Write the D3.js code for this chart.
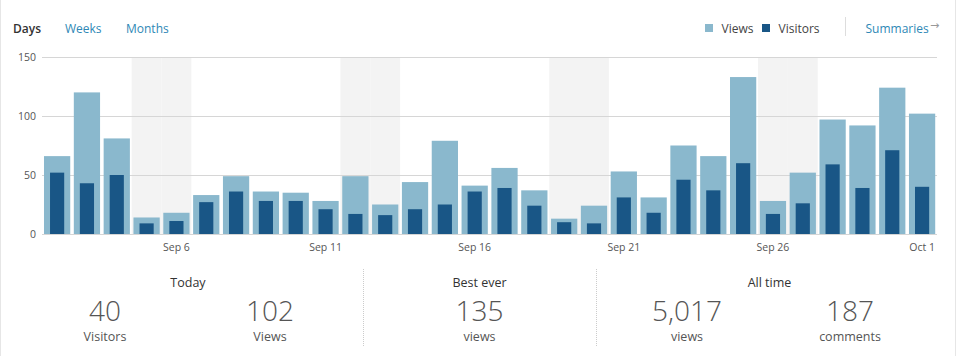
<!DOCTYPE html>
<html><head><meta charset="utf-8">
<script src="https://cdn.jsdelivr.net/npm/d3@7"></script>
<style>
html,body{margin:0;padding:0;background:#fff;}
svg{display:block;font-family:"Open Sans",sans-serif;}
</style></head><body>
<svg id="c" width="958" height="356"></svg>
<script>
const days = ["Sep 2","Sep 3","Sep 4","Sep 5","Sep 6","Sep 7","Sep 8","Sep 9","Sep 10","Sep 11","Sep 12","Sep 13","Sep 14","Sep 15","Sep 16","Sep 17","Sep 18","Sep 19","Sep 20","Sep 21","Sep 22","Sep 23","Sep 24","Sep 25","Sep 26","Sep 27","Sep 28","Sep 29","Sep 30","Oct 1"];
const views = [66,120,81,14,18,33,49,36,35,28,49,25,44,79,41,56,37,13,24,53,31,75,66,133,28,52,97,92,124,102];
const visitors = [52,43,50,9,11,27,36,28,28,21,17,16,21,25,36,39,24,10,9,31,18,46,37,60,17,26,59,39,71,40];
const weekends = ["Sep 5","Sep 6","Sep 12","Sep 13","Sep 19","Sep 20","Sep 26","Sep 27"];
const xTickLabels = ["Sep 6","Sep 11","Sep 16","Sep 21","Sep 26","Oct 1"];
const yTicks = [0,50,100,150];
const tabs = ["Days","Weeks","Months"];
const legendItems = ["Views","Visitors"];
const statGroups = ["Today","Best ever","All time"];
const statValues = [40,102,135,5017,187];
const statLabels = ["Visitors","Views","views","views","comments"];

const svg = d3.select("#c");
const LIGHT="#8ab8cd", DARK="#195686", BLUE="#2e88b6";

// card borders
svg.append("line").attr("x1",0.5).attr("x2",0.5).attr("y1",0).attr("y2",356).attr("stroke","#e6e6e6");
svg.append("line").attr("x1",955.5).attr("x2",955.5).attr("y1",0).attr("y2",356).attr("stroke","#e6e6e6");

// tabs
const tabX=[13,65,126];
svg.selectAll("text.tab").data(tabs).join("text").attr("class","tab")
  .attr("x",(d,i)=>tabX[i]).attr("y",32.5).attr("font-size",12)
  .attr("font-weight",(d,i)=>i===0?600:400)
  .attr("fill",(d,i)=>i===0?"#333":BLUE).text(d=>d);

// legend
const lg=[{x:705,c:LIGHT},{x:762,c:DARK}];
legendItems.forEach((t,i)=>{
  svg.append("rect").attr("x",lg[i].x).attr("y",24).attr("width",8).attr("height",8).attr("fill",lg[i].c);
  svg.append("text").attr("x",lg[i].x+16.5).attr("y",32.5).attr("font-size",12).attr("fill","#444").text(t);
});
svg.append("line").attr("x1",845.5).attr("x2",845.5).attr("y1",17).attr("y2",36).attr("stroke","#ddd");
svg.append("text").attr("x",865.5).attr("y",32.5).attr("font-size",12).attr("fill",BLUE).text("Summaries");
svg.append("text").attr("x",930).attr("y",29).attr("font-size",11).attr("font-family","DejaVu Sans, sans-serif").attr("fill","#999").text("→");

// scales
const x = d3.scaleBand().domain(days).range([42.2,937]).paddingInner(0.12).paddingOuter(0.06);
const y = d3.scaleLinear().domain([0,150]).range([234,57]);
const step = x.step();
const gap = step - x.bandwidth();

// weekend shading
svg.append("g").selectAll("rect").data(weekends).join("rect")
  .attr("x",d=>x(d)-gap/2).attr("width",step).attr("y",y(150)).attr("height",y(0)-y(150)).attr("fill","#f3f3f3");

// grid
const yAxis = d3.axisLeft(y).tickValues(yTicks).tickSize(-(937-42)).tickFormat(d3.format("d")).tickPadding(6);
const gy = svg.append("g").attr("transform","translate(42,0)").call(yAxis);
gy.select(".domain").remove();
gy.selectAll(".tick line").attr("stroke","#d6d6d6");
gy.selectAll(".tick text").attr("font-size",10.5).attr("fill","#555").attr("font-family","Open Sans, sans-serif");

// bars
svg.append("g").selectAll("rect").data(days).join("rect")
  .attr("x",d=>x(d)).attr("width",x.bandwidth())
  .attr("y",(d,i)=>y(views[i])).attr("height",(d,i)=>y(0)-y(views[i])).attr("fill",LIGHT);
const vw = x.bandwidth()*0.54;
svg.append("g").selectAll("rect").data(days).join("rect")
  .attr("x",d=>x(d)+(x.bandwidth()-vw)/2).attr("width",vw)
  .attr("y",(d,i)=>y(visitors[i])).attr("height",(d,i)=>y(0)-y(visitors[i])).attr("fill",DARK);

// baseline
svg.append("line").attr("x1",42).attr("x2",937).attr("y1",234.5).attr("y2",234.5).attr("stroke","#d6d6d6");

// x axis
const xAxis = d3.axisBottom(x).tickValues(xTickLabels).tickSize(0).tickPadding(8);
const gx = svg.append("g").attr("transform","translate(0,234)").call(xAxis);
gx.select(".domain").remove();
gx.selectAll(".tick text").attr("font-size",10.5).attr("fill","#555").attr("font-family","Open Sans, sans-serif").attr("dy","0.9em");

// stats
const fmt = d3.format(",");
const groupX=[188,479.5,769.5];
svg.selectAll("text.sg").data(statGroups).join("text").attr("class","sg")
  .attr("x",(d,i)=>groupX[i]).attr("y",286.5).attr("text-anchor","middle").attr("font-size",12.5).attr("fill","#333").text(d=>d);
const colX=[105,270,479.5,687,850];
svg.selectAll("text.sv").data(statValues).join("text").attr("class","sv")
  .attr("x",(d,i)=>colX[i]).attr("y",320.5).attr("text-anchor","middle").attr("font-size",28).attr("font-weight",300)
  .attr("fill","#555").text(d=>fmt(d));
svg.selectAll("text.sl").data(statLabels).join("text").attr("class","sl")
  .attr("x",(d,i)=>colX[i]).attr("y",341).attr("text-anchor","middle").attr("font-size",12.5).attr("fill","#555").text(d=>d);
[363.5,596.5].forEach(px=>{
  svg.append("line").attr("x1",px).attr("x2",px).attr("y1",269).attr("y2",347).attr("stroke","#ccc").attr("stroke-dasharray","1,1");
});
</script>
</body></html>
